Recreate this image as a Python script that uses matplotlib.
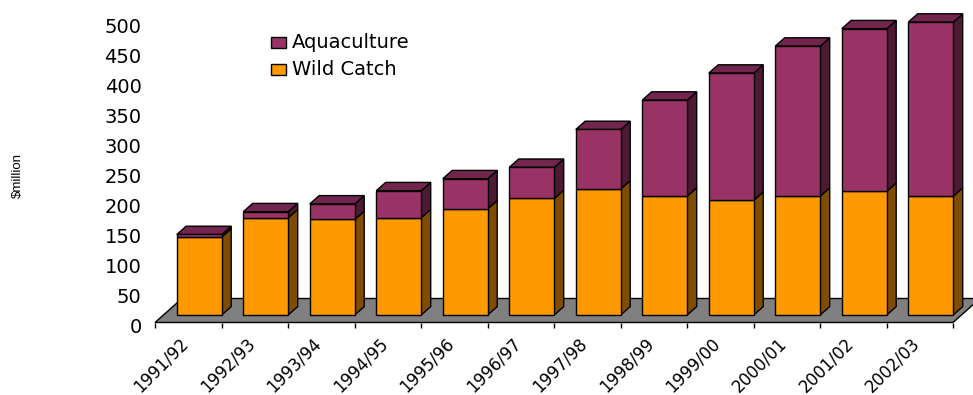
import numpy as np
import matplotlib.pyplot as plt
from matplotlib.patches import Polygon, Rectangle
from matplotlib.transforms import ScaledTranslation

# data ($million)
years = ['1991/92', '1992/93', '1993/94', '1994/95', '1995/96', '1996/97',
         '1997/98', '1998/99', '1999/00', '2000/01', '2001/02', '2002/03']
wild_catch = [130, 162, 159, 162, 177, 194, 210, 198, 191, 198, 206, 198]
aquaculture = [4, 10, 26, 45, 50, 52, 99, 160, 212, 250, 271, 290]
yticks = list(range(0, 501, 50))

# colours (front, top, side)
orange = ('#FF9900', '#CC7A00', '#7F4C00')
plum = ('#993366', '#73264D', '#4D1A33')
floor_col = '#808080'

# fake 3d geometry, in data units
bar_left = 0.328     # front face start inside a slot
bar_w = 0.677
bar_dx, bar_dy = 0.141, 13.8
floor_dx, floor_dy = 0.406, 40
base_dy = 12.7       # bars stand a bit back on the floor

W, H = 973, 395
fig = plt.figure(figsize=(W / 100, H / 100), dpi=100)
ax = fig.add_axes([155 / W, (H - 322.5) / H, 798 / W, 300 / H])
ax.set_xlim(0, 12)
ax.set_ylim(0, 500)
for s in ax.spines.values():
    s.set_visible(False)

# floor
ax.add_patch(Polygon([(0, 0), (12, 0), (12 + floor_dx, floor_dy), (floor_dx, floor_dy)],
                     closed=True, facecolor=floor_col, edgecolor='black', lw=1.0,
                     clip_on=False, zorder=1))


def box(x0, y0, y1, cols, top):
    x1 = x0 + bar_w
    # side
    ax.add_patch(Polygon([(x1, y0), (x1 + bar_dx, y0 + bar_dy), (x1 + bar_dx, y1 + bar_dy), (x1, y1)],
                         closed=True, facecolor=cols[2], edgecolor='black', lw=1.0,
                         clip_on=False, zorder=2, joinstyle='miter'))
    if top:
        ax.add_patch(Polygon([(x0, y1), (x1, y1), (x1 + bar_dx, y1 + bar_dy), (x0 + bar_dx, y1 + bar_dy)],
                             closed=True, facecolor=cols[1], edgecolor='black', lw=1.0,
                             clip_on=False, zorder=2, joinstyle='miter'))
    # front
    ax.add_patch(Rectangle((x0, y0), bar_w, y1 - y0, facecolor=cols[0], edgecolor='black',
                           lw=1.0, clip_on=False, zorder=3))


for i in range(len(years)):
    x0 = i + bar_left
    w = wild_catch[i]
    a = aquaculture[i]
    box(x0, base_dy, base_dy + w, orange, False)
    box(x0, base_dy + w, base_dy + w + a, plum, True)

# axes ticks
ax.set_yticks(yticks)
ax.tick_params(axis='y', length=0, pad=9.6, labelsize=14)
off = ScaledTranslation(0, -2.5 / 72, fig.dpi_scale_trans)
for lab in ax.get_yticklabels():
    lab.set_transform(lab.get_transform() + off)

ax.set_xticks(range(13))
ax.set_xticklabels([])
ax.tick_params(axis='x', which='major', length=3.6, width=1.0, color='black')
ax.set_xticks(np.arange(12) + 0.5, labels=years, minor=True)
ax.tick_params(axis='x', which='minor', length=0, pad=5, labelsize=12)
xoff = ScaledTranslation(-9 / 100, -5 / 100, fig.dpi_scale_trans)
for lab in ax.get_xticklabels(minor=True):
    lab.set_rotation(45)
    lab.set_ha('right')
    lab.set_va('top')
    lab.set_rotation_mode('anchor')
    lab.set_transform(lab.get_transform() + xoff)

fig.text(18 / W, 1 - 176 / H, '$million', rotation=90, ha='center', va='center',
         fontsize=9.5, family='Liberation Sans')

# legend
for k, (name, col) in enumerate([('Aquaculture', plum[0]), ('Wild Catch', orange[0])]):
    yc = 42.5 + k * 27
    fig.patches.append(Rectangle((271 / W, 1 - (yc + 5) / H), 14.7 / W, 10 / H,
                                 transform=fig.transFigure, facecolor=col,
                                 edgecolor='black', lw=1.0))
    fig.text(292 / W, 1 - yc / H, name, ha='left', va='center', fontsize=14)

fig.savefig('out.png', dpi=100)
